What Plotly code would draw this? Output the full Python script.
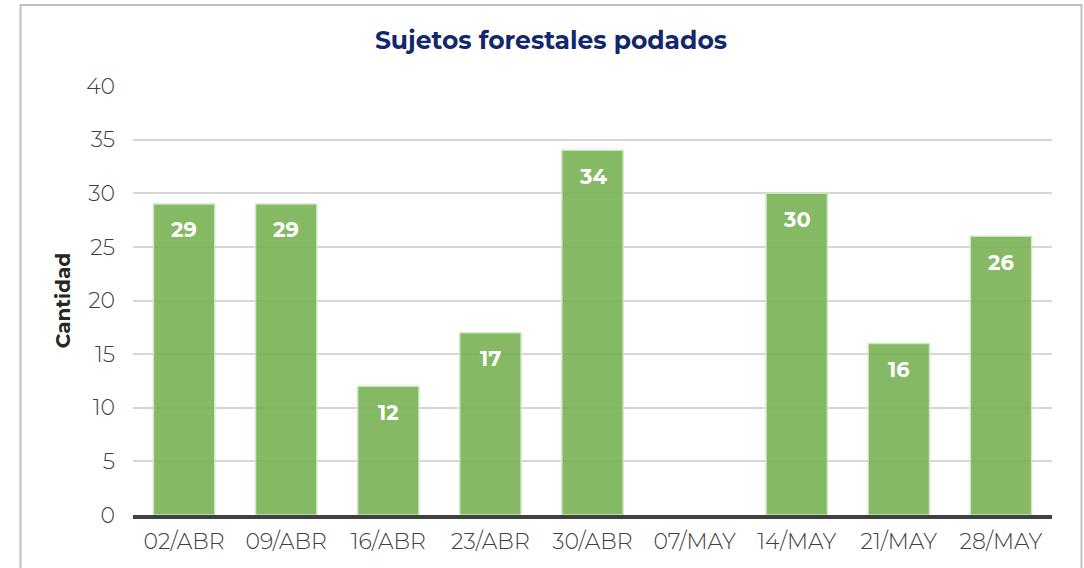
import plotly.graph_objects as go

categories = ["02/ABR", "09/ABR", "16/ABR", "23/ABR", "30/ABR", "07/MAY", "14/MAY", "21/MAY", "28/MAY"]
values = [29, 29, 12, 17, 34, 0, 30, 16, 26]
y_ticks = [0, 5, 10, 15, 20, 25, 30, 35, 40]

W, H = 1084, 568
ml, mr, mt, mb = 133, 32, 86, 53
pw, ph = W - ml - mr, H - mt - mb
FONT = "Montserrat, Lato, 'Open Sans', sans-serif"

fig = go.Figure()
fig.add_trace(go.Bar(
    x=categories, y=values,
    marker=dict(color="rgba(116,175,78,0.88)",
                line=dict(color="rgba(205,232,195,0.95)", width=[0 if v == 0 else 1.5 for v in values])),
    hoverinfo="x+y",
))

for c, v in zip(categories, values):
    if v > 0:
        fig.add_annotation(x=c, y=v, text=f"<b>{v}</b>", showarrow=False, yshift=-26,
                           font=dict(family=FONT, size=21, color="white"))

def px2x(px):
    return (px - ml) / pw

def px2y(py):
    return (H - mb - py) / ph

fig.add_shape(type="rect", xref="paper", yref="paper",
              x0=px2x(20.5), x1=px2x(1081.5), y0=px2y(600), y1=px2y(5),
              line=dict(color="#c0c0c0", width=2), fillcolor="rgba(0,0,0,0)", layer="below")

fig.update_layout(
    width=W, height=H,
    margin=dict(l=ml, r=mr, t=mt, b=mb),
    paper_bgcolor="white", plot_bgcolor="white",
    bargap=0.4,
    showlegend=False,
    title=dict(text="<b>Sujetos forestales podados</b>", x=px2x(551), xanchor="center", xref="paper",
               y=1 - 40 / H, yanchor="middle",
               font=dict(family=FONT, size=25, color="#13276b")),
    font=dict(family=FONT, color="#404040"),
)
fig.update_yaxes(range=[0, 40], tickvals=y_ticks, ticktext=[str(v) for v in y_ticks],
                 showgrid=True, gridcolor="#d6d6d6", gridwidth=1.5,
                 zeroline=False, showline=False,
                 tickfont=dict(size=22, color="#404040", weight=300), ticks="", ticklen=0,
                 ticklabelstandoff=17,
                 title=dict(text="<b>Cantidad</b>", font=dict(family=FONT, size=20, color="#262626"),
                            standoff=10))
fig.update_xaxes(showgrid=False, showline=True, linecolor="#404040", linewidth=4,
                 tickfont=dict(size=22, color="#404040", weight=300), ticks="",
                 ticklabelstandoff=4)

fig.write_html("out.html", config={"displayModeBar": False},
               post_script="document.body.style.margin='0';document.body.style.padding='0';")
